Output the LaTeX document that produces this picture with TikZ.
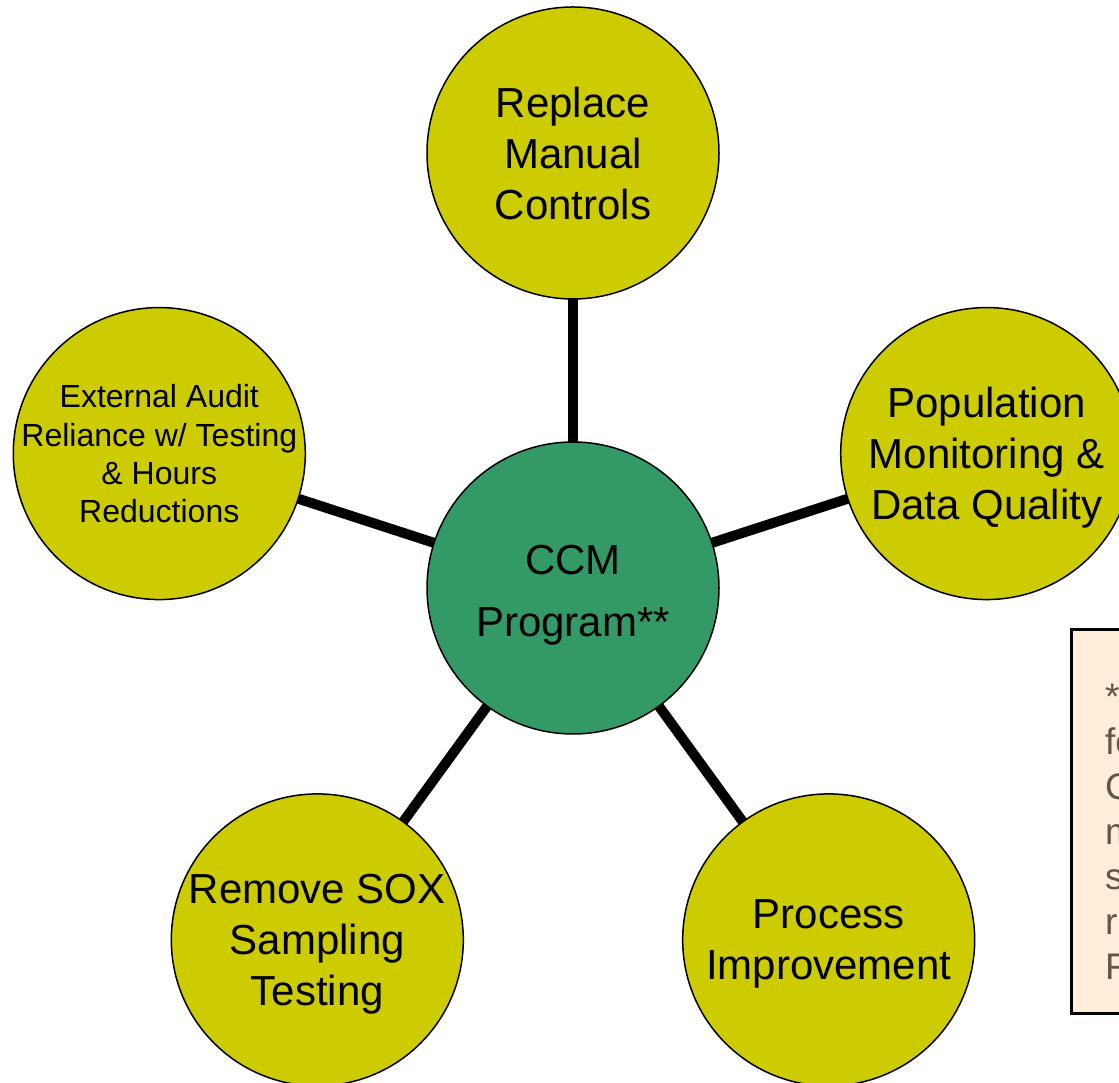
\documentclass[tikz,border=0pt]{standalone}
\usepackage{fontspec}
\setmainfont{Liberation Sans}
\usetikzlibrary{backgrounds,calc}
\definecolor{olivey}{RGB}{204,204,0}
\definecolor{ccmgreen}{RGB}{51,153,102}
\definecolor{notefill}{RGB}{255,236,217}
\definecolor{notetext}{RGB}{100,85,70}
\begin{document}
\begin{tikzpicture}[x=1pt,y=1pt,
  bubble/.style={circle, draw=black, line width=1.5pt, fill=olivey, minimum size=292pt, inner sep=-40pt, outer sep=0pt, align=center, text depth=0pt, font=\fontsize{42}{51}\selectfont},
  hub/.style={bubble, fill=ccmgreen, text height=98pt, font=\fontsize{42}{62}\selectfont},
  smallbubble/.style={bubble, font=\fontsize{32}{38.3}\selectfont},
  spoke/.style={line width=10pt, draw=black},
  notebox/.style={draw=black, line width=3pt, fill=notefill, anchor=south west, minimum width=90pt, minimum height=384pt, inner sep=0pt},
  noteline/.style={anchor=base west, inner sep=0pt, text=notetext, font=\fontsize{37}{45}\selectfont}]
\useasboundingbox (0,0) rectangle (1119,1083);
\clip (0,0) rectangle (1119,1083);
\coordinate (c0) at (573,495);
\node[hub] (ccm) at (c0) {CCM\\Program**};
\node[bubble] (rmc) at ($(c0)+(90:435)$) {Replace\\Manual\\Controls};
\node[bubble] (pmdq) at ($(c0)+(18:435)$) {Population\\Monitoring \&\\Data Quality};
\node[smallbubble] (ext) at ($(c0)+(162:435)$) {External Audit\\Reliance w/ Testing\\\& Hours\\Reductions};
\node[bubble] (sox) at ($(c0)+(234:435)$) {Remove SOX\\Sampling\\Testing};
\node[bubble] (proc) at ($(c0)+(-54:435)$) {Process\\Improvement};
\begin{scope}[on background layer]
  \foreach \n in {rmc,pmdq,ext,sox,proc} \draw[spoke] (ccm) -- (\n);
\end{scope}
\node[notebox] (note) at (1069.5,67.5) {};
\node[noteline] (n1) at (1105,373) {**};
\node[noteline] (n2) at (1105,328) {fo};
\node[noteline] (n3) at (1105,283) {C};
\node[noteline] (n4) at (1105,238) {m};
\node[noteline] (n5) at (1105,193) {s};
\node[noteline] (n6) at (1105,148) {re};
\node[noteline] (n7) at (1105,103) {F};
\end{tikzpicture}
\end{document}
